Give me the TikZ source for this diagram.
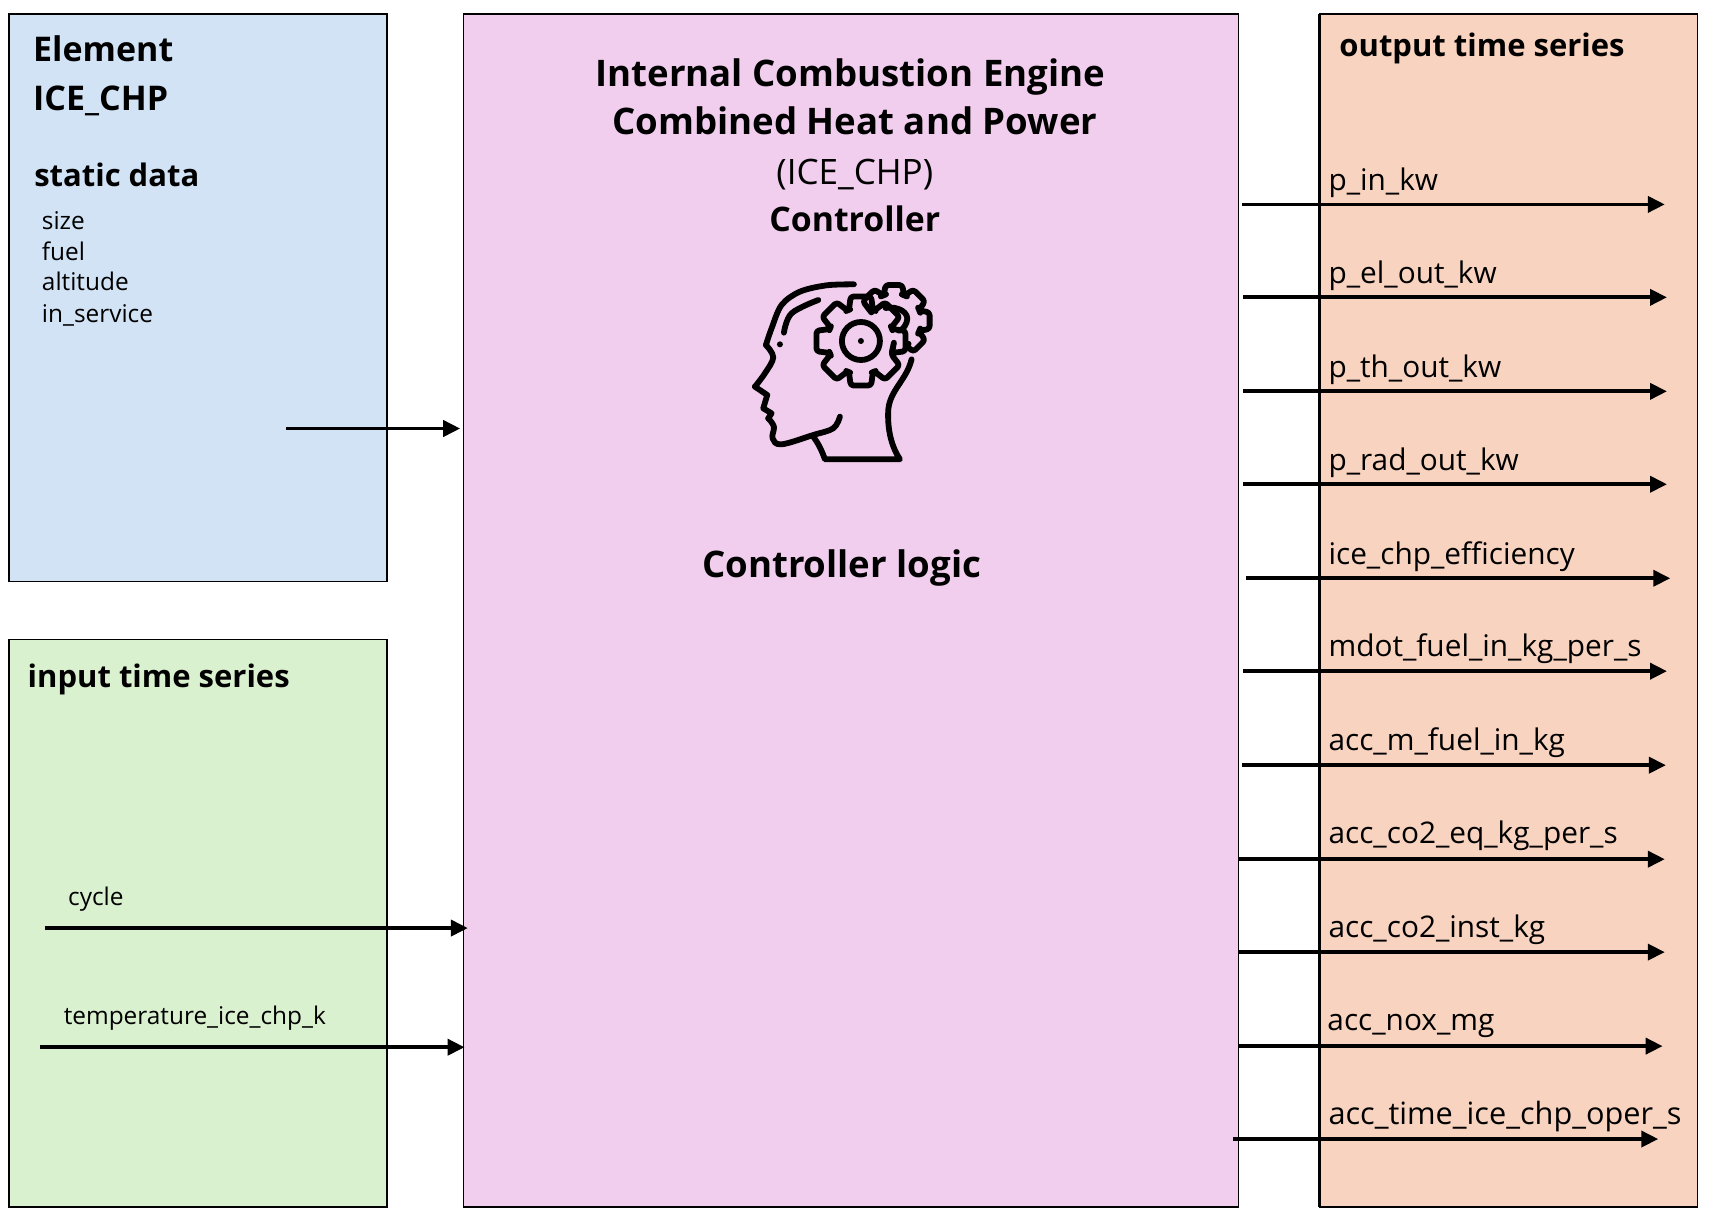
\documentclass[tikz,border=0pt]{standalone}
\usepackage{fontspec}
\setmainfont{Open Sans}
\usetikzlibrary{arrows.meta}
\definecolor{cblue}{RGB}{210,227,245}
\definecolor{cgreen}{RGB}{218,241,208}
\definecolor{cpink}{RGB}{241,206,237}
\definecolor{corange}{RGB}{248,211,191}
\tikzset{
 x=0.5466pt,y=-0.5466pt,
 panel/.style={draw=black,line width=0.8pt,inner sep=0},
 conn/.style={line width=1.9pt,-{Triangle[length=8.5pt,width=8pt]}},
 lbl/.style={anchor=base west,inner sep=0,font=\fontsize{14.9}{15}\selectfont},
 smalllbl/.style={anchor=base west,inner sep=0,font=\fontsize{12.2}{12}\selectfont},
 head/.style={anchor=base west,inner sep=0,font=\fontsize{15.5}{16}\selectfont\bfseries},
 elhead/.style={anchor=base west,inner sep=0,font=\fontsize{17}{17}\selectfont\bfseries},
 bighead/.style={anchor=base,inner sep=0,font=\fontsize{18.3}{18}\selectfont\bfseries},
 icon/.style={line width=2.9pt,line cap=round,line join=round},
}
\begin{document}
\begin{tikzpicture}
\useasboundingbox (0,0) rectangle (1568,1116);
\fill[white] (0,0) rectangle (1568,1116);
% panels
\draw[panel,fill=cblue] (8,13) rectangle (354,532);
\draw[panel,fill=cgreen] (8,585) rectangle (354,1104);
\draw[panel,fill=cpink] (424,13) rectangle (1133,1104);
\draw[panel,fill=corange] (1207,13) rectangle (1553,1104);
\draw[line width=1.5pt] (1207,13) -- (1207,1104);
% texts left
\node[elhead] (t1) at (30,56) {Element};
\node[elhead] (t2) at (30,101) {ICE\_CHP};
\node[head] (t3) at (31,171) {static data};
\node[smalllbl] (s1) at (38,210) {size};
\node[smalllbl] (s2) at (38,238) {fuel};
\node[smalllbl] (s3) at (38,266) {altitude};
\node[smalllbl] (s4) at (38,295) {in\_service};
\node[head] (t4) at (25,629) {input time series};
\node[smalllbl] (i1) at (62,828) {cycle};
\node[smalllbl] (i2) at (58,937) {temperature\_ice\_chp\_k};
% centre
\node[bighead] (m1) at (778,79) {Internal Combustion Engine};
\node[bighead] (m2) at (782,123) {Combined Heat and Power};
\node[bighead,font=\fontsize{17.5}{18}\selectfont] (m3) at (782,169) {(ICE\_CHP)};
\node[bighead,font=\fontsize{16.9}{18}\selectfont\bfseries] (m4) at (782,212) {Controller};
\node[bighead] (m5) at (770,528) {Controller logic};
% output
\node[head] (o0) at (1225,52) {output time series};
\foreach \n/\y/\x/\t in {a/174/1215/p\_in\_kw,b/259/1215/p\_el\_out\_kw,c/345/1215/p\_th\_out\_kw,d/430/1215/p\_rad\_out\_kw,e/516/1215/ice\_chp\_efficiency,f/601/1215/mdot\_fuel\_in\_kg\_per\_s,g/687/1215/acc\_m\_fuel\_in\_kg,h/772/1215/acc\_co2\_eq\_kg\_per\_s,i/858/1215/acc\_co2\_inst\_kg,j/943/1214/acc\_nox\_mg}
  {\node[lbl] (lab\n) at (\x,\y) {\t};}
\node[lbl,font=\fontsize{15.35}{15}\selectfont] (labk) at (1215,1029) {acc\_time\_ice\_chp\_oper\_s};
% connectors
\foreach \n/\a/\b/\y in {z/262/421/392,y/41/428/849,x/37/425/958,a/1136/1523/187,b/1137/1525/272,c/1137/1525/358,d/1137/1525/443,e/1140/1528/529,f/1137/1525/614,g/1136/1524/700,h/1133/1523/786,i/1133/1523/871,j/1133/1521/957,k/1128/1517/1042}{
  \coordinate (from\n) at (\a,\y);
  \coordinate (to\n) at (\b,\y);
  \draw[conn] (from\n) -- (to\n);
}
% icon
\begin{scope}[shift={(640.3,228.7)},x=0.16667pt,y=-0.16667pt,icon]
 \draw plot[smooth,tension=.55] coordinates {(462,103) (380,106) (300,125) (245,165) (215,235) (198,285)};
 \draw plot[smooth,tension=.6] coordinates {(198,285) (220,322) (195,370) (165,410)};
 \draw (165,410) -- (202,435) -- (190,475) -- (215,490) -- (205,505);
 \draw plot[smooth,tension=.6] coordinates {(205,505) (222,530) (218,565) (245,583) (340,555) (400,535) (420,500)};
 \draw (340,560) .. controls (355,580) and (365,600) .. (375,628) -- (600,628) .. controls (575,590) and (562,540) .. (565,480) .. controls (570,420) and (620,390) .. (635,328);
 \draw plot[smooth,tension=.6] coordinates {(252,248) (275,190) (355,150)};
 \fill (240,283) circle (9);
 % large gear
 \begin{scope}[shift={(483,273)}]
  \draw[rounded corners=1.5pt,yscale=-1] (0:100)
   \foreach \q in {0,45,...,315}{
     -- (\q-21:100) -- (\q-13:137) -- (\q+13:137) -- (\q+21:100)
   } -- cycle;
  \draw (0,0) circle (57);
  \fill (0,0) circle (9);
 \end{scope}
 % small gear, hidden behind large gear
 \begin{scope}[shift={(582,212)}]
  \draw[rounded corners=1.5pt,yscale=-1] (-62:82) -- (-45-19:82) -- (-45-13:110) -- (-45+13:110) -- (-45+22:82)
   -- (-22:82) -- (-13:110) -- (13:110) -- (22:82)
   -- (45-22:82) -- (45-13:110) -- (45+13:110) -- (45+22:82)
   -- (90-22:82) -- (90-13:110) -- (90+13:110) -- (90+22:82)
   -- (135-22:82) -- (135-13:110) -- (135+13:110) -- (135+25:72);
  \draw (-25,-38) .. controls (10,-45) and (50,-25) .. (38,5) .. controls (32,20) and (25,28) .. (15,30);
 \end{scope}
\end{scope}
\end{tikzpicture}
\end{document}
